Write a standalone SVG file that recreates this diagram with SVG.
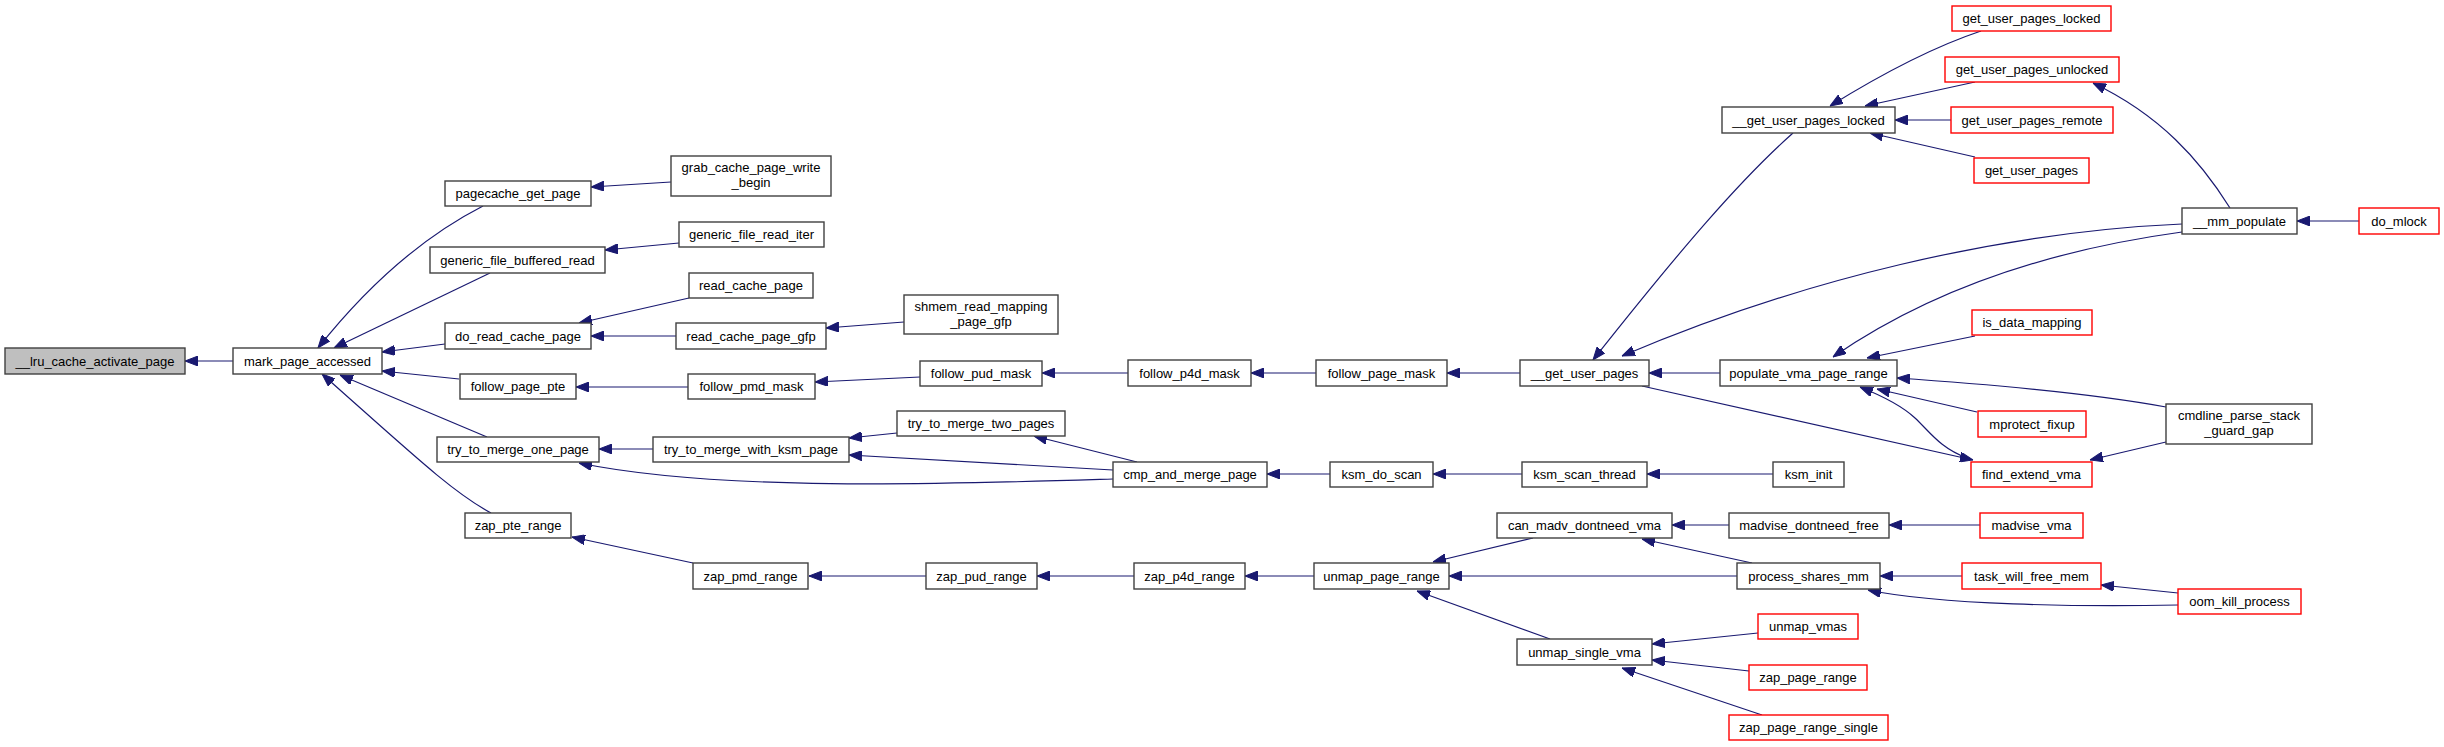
<svg xmlns="http://www.w3.org/2000/svg" width="2444" height="747" viewBox="0 0 2444 747">
<style>
rect{fill:#ffffff;stroke:#404040;stroke-width:1.4}
rect.red{stroke:#ff0000}
rect.root{fill:#bfbfbf}
text{font-family:"Liberation Sans",Arial,sans-serif;font-size:13px;fill:#000000;text-anchor:middle}
#edges path{fill:none;stroke:#191970;stroke-width:1.2;marker-end:url(#ah)}
</style>
<defs>
<marker id="ah" viewBox="0 0 13 10" refX="13" refY="5" markerWidth="13" markerHeight="10" markerUnits="userSpaceOnUse" orient="auto"><path d="M0,0 L13,5 L0,10 z" fill="#191970" stroke="#191970" stroke-width="1"/></marker>
</defs>
<rect x="0" y="0" width="2444" height="747" style="fill:#ffffff;stroke:none"/>
<g id="edges">
<path d="M233,361 L185,361"/>
<path d="M483,206 C440,228 380,270 318,348"/>
<path d="M490,273 L334,348"/>
<path d="M445,344 L382,352"/>
<path d="M459,379 L382,371"/>
<path d="M487,437 L340,375"/>
<path d="M491,513 C452,492 410,452 322,374"/>
<path d="M671,182 L591,187"/>
<path d="M679,243 L605,250"/>
<path d="M689,298 L579,323"/>
<path d="M676,336 L591,336"/>
<path d="M904,322 L826,328"/>
<path d="M688,387 L576,387"/>
<path d="M920,377 L815,382"/>
<path d="M653,449 L599,449"/>
<path d="M897,433 L849,438"/>
<path d="M1137,462 L1034,436"/>
<path d="M1113,470 L849,455"/>
<path d="M1113,479 C950,484 720,492 579,463"/>
<path d="M693,563 L572,537"/>
<path d="M926,576 L809,576"/>
<path d="M1134,576 L1037,576"/>
<path d="M1314,576 L1245,576"/>
<path d="M1128,373 L1042,373"/>
<path d="M1316,373 L1251,373"/>
<path d="M1520,373 L1447,373"/>
<path d="M1330,474 L1267,474"/>
<path d="M1522,474 L1433,474"/>
<path d="M1773,474 L1647,474"/>
<path d="M1533,538 L1433,562"/>
<path d="M1737,576 L1449,576"/>
<path d="M1550,639 L1417,591"/>
<path d="M1729,525 L1672,525"/>
<path d="M1752,563 L1642,539"/>
<path d="M1980,525 L1889,525"/>
<path d="M1962,576 L1880,576"/>
<path d="M2178,605 C2080,607 1940,605 1868,590"/>
<path d="M2178,593 L2101,585"/>
<path d="M1758,633 L1652,644"/>
<path d="M1749,671 L1652,660"/>
<path d="M1762,715 L1622,668"/>
<path d="M1720,373 L1649,373"/>
<path d="M1793,133 C1740,180 1680,250 1593,360"/>
<path d="M2182,224 C2000,232 1800,280 1622,356"/>
<path d="M1642,386 L1973,460"/>
<path d="M1981,31 C1930,48 1880,75 1830,106"/>
<path d="M1975,82 L1865,106"/>
<path d="M1951,120 L1895,120"/>
<path d="M1975,157 L1870,133"/>
<path d="M2230,208 C2200,160 2160,115 2093,83"/>
<path d="M2359,221 L2297,221"/>
<path d="M2182,232 C2050,250 1930,290 1833,357"/>
<path d="M1975,336 L1867,358"/>
<path d="M1977,412 L1877,389"/>
<path d="M2166,407 C2100,395 2000,385 1897,378"/>
<path d="M2166,442 L2090,460"/>
<path d="M1967,458 C1940,448 1930,432 1915,418 C1900,404 1880,395 1860,387"/>
</g>
<g id="n_lru"><rect class="root" x="5" y="348" width="180" height="26"/><text x="95" y="365.5">__lru_cache_activate_page</text></g>
<g id="n_mark_page_accessed"><rect x="233" y="348" width="149" height="26"/><text x="307.5" y="365.5">mark_page_accessed</text></g>
<g id="n_pagecache_get_page"><rect x="445" y="181" width="146" height="25"/><text x="518" y="198">pagecache_get_page</text></g>
<g id="n_generic_file_buffered_read"><rect x="430" y="247" width="175" height="26"/><text x="517.5" y="264.5">generic_file_buffered_read</text></g>
<g id="n_do_read_cache_page"><rect x="445" y="323" width="146" height="26"/><text x="518" y="340.5">do_read_cache_page</text></g>
<g id="n_follow_page_pte"><rect x="460" y="374" width="116" height="25"/><text x="518" y="391">follow_page_pte</text></g>
<g id="n_try_to_merge_one_page"><rect x="437" y="437" width="162" height="25"/><text x="518" y="454">try_to_merge_one_page</text></g>
<g id="n_zap_pte_range"><rect x="465" y="513" width="106" height="25"/><text x="518" y="530">zap_pte_range</text></g>
<g id="n_grab_cache_page_write_begin"><rect x="671" y="156" width="160" height="40"/><text x="751" y="172">grab_cache_page_write</text><text x="751" y="187">_begin</text></g>
<g id="n_generic_file_read_iter"><rect x="679" y="222" width="145" height="25"/><text x="751.5" y="239">generic_file_read_iter</text></g>
<g id="n_read_cache_page"><rect x="689" y="273" width="124" height="25"/><text x="751" y="290">read_cache_page</text></g>
<g id="n_read_cache_page_gfp"><rect x="676" y="323" width="150" height="26"/><text x="751" y="340.5">read_cache_page_gfp</text></g>
<g id="n_shmem_read_mapping_page_gfp"><rect x="904" y="295" width="154" height="39"/><text x="981" y="310.5">shmem_read_mapping</text><text x="981" y="325.5">_page_gfp</text></g>
<g id="n_follow_pmd_mask"><rect x="688" y="374" width="127" height="25"/><text x="751.5" y="391">follow_pmd_mask</text></g>
<g id="n_follow_pud_mask"><rect x="920" y="361" width="122" height="25"/><text x="981" y="378">follow_pud_mask</text></g>
<g id="n_try_to_merge_two_pages"><rect x="897" y="411" width="168" height="25"/><text x="981" y="428">try_to_merge_two_pages</text></g>
<g id="n_try_to_merge_with_ksm_page"><rect x="653" y="437" width="196" height="25"/><text x="751" y="454">try_to_merge_with_ksm_page</text></g>
<g id="n_zap_pmd_range"><rect x="693" y="563" width="115" height="26"/><text x="750.5" y="580.5">zap_pmd_range</text></g>
<g id="n_zap_pud_range"><rect x="926" y="563" width="111" height="26"/><text x="981.5" y="580.5">zap_pud_range</text></g>
<g id="n_follow_p4d_mask"><rect x="1128" y="360" width="123" height="26"/><text x="1189.5" y="377.5">follow_p4d_mask</text></g>
<g id="n_follow_page_mask"><rect x="1316" y="360" width="131" height="26"/><text x="1381.5" y="377.5">follow_page_mask</text></g>
<g id="n_cmp_and_merge_page"><rect x="1113" y="462" width="154" height="25"/><text x="1190" y="479">cmp_and_merge_page</text></g>
<g id="n_ksm_do_scan"><rect x="1330" y="462" width="103" height="25"/><text x="1381.5" y="479">ksm_do_scan</text></g>
<g id="n_zap_p4d_range"><rect x="1134" y="563" width="111" height="26"/><text x="1189.5" y="580.5">zap_p4d_range</text></g>
<g id="n_unmap_page_range"><rect x="1314" y="563" width="135" height="26"/><text x="1381.5" y="580.5">unmap_page_range</text></g>
<g id="n___get_user_pages"><rect x="1520" y="360" width="129" height="26"/><text x="1584.5" y="377.5">__get_user_pages</text></g>
<g id="n_ksm_scan_thread"><rect x="1522" y="462" width="125" height="25"/><text x="1584.5" y="479">ksm_scan_thread</text></g>
<g id="n_can_madv_dontneed_vma"><rect x="1497" y="513" width="175" height="25"/><text x="1584.5" y="530">can_madv_dontneed_vma</text></g>
<g id="n_unmap_single_vma"><rect x="1517" y="639" width="135" height="26"/><text x="1584.5" y="656.5">unmap_single_vma</text></g>
<g id="n___get_user_pages_locked"><rect x="1722" y="107" width="173" height="26"/><text x="1808.5" y="124.5">__get_user_pages_locked</text></g>
<g id="n_populate_vma_page_range"><rect x="1720" y="360" width="177" height="26"/><text x="1808.5" y="377.5">populate_vma_page_range</text></g>
<g id="n_ksm_init"><rect x="1773" y="462" width="71" height="25"/><text x="1808.5" y="479">ksm_init</text></g>
<g id="n_madvise_dontneed_free"><rect x="1729" y="513" width="160" height="25"/><text x="1809" y="530">madvise_dontneed_free</text></g>
<g id="n_process_shares_mm"><rect x="1737" y="563" width="143" height="26"/><text x="1808.5" y="580.5">process_shares_mm</text></g>
<g id="n_unmap_vmas"><rect class="red" x="1758" y="614" width="100" height="25"/><text x="1808" y="631">unmap_vmas</text></g>
<g id="n_zap_page_range"><rect class="red" x="1749" y="665" width="118" height="25"/><text x="1808" y="682">zap_page_range</text></g>
<g id="n_zap_page_range_single"><rect class="red" x="1729" y="715" width="159" height="25"/><text x="1808.5" y="732">zap_page_range_single</text></g>
<g id="n_get_user_pages_locked"><rect class="red" x="1952" y="6" width="159" height="25"/><text x="2031.5" y="23">get_user_pages_locked</text></g>
<g id="n_get_user_pages_unlocked"><rect class="red" x="1945" y="57" width="174" height="25"/><text x="2032" y="74">get_user_pages_unlocked</text></g>
<g id="n_get_user_pages_remote"><rect class="red" x="1951" y="107" width="162" height="26"/><text x="2032" y="124.5">get_user_pages_remote</text></g>
<g id="n_get_user_pages"><rect class="red" x="1974" y="158" width="115" height="25"/><text x="2031.5" y="175">get_user_pages</text></g>
<g id="n_is_data_mapping"><rect class="red" x="1972" y="310" width="120" height="25"/><text x="2032" y="327">is_data_mapping</text></g>
<g id="n_mprotect_fixup"><rect class="red" x="1978" y="411" width="108" height="26"/><text x="2032" y="428.5">mprotect_fixup</text></g>
<g id="n_find_extend_vma"><rect class="red" x="1971" y="462" width="121" height="25"/><text x="2031.5" y="479">find_extend_vma</text></g>
<g id="n_madvise_vma"><rect class="red" x="1980" y="513" width="103" height="25"/><text x="2031.5" y="530">madvise_vma</text></g>
<g id="n_task_will_free_mem"><rect class="red" x="1962" y="563" width="139" height="26"/><text x="2031.5" y="580.5">task_will_free_mem</text></g>
<g id="n___mm_populate"><rect x="2182" y="208" width="115" height="26"/><text x="2239.5" y="225.5">__mm_populate</text></g>
<g id="n_do_mlock"><rect class="red" x="2359" y="208" width="80" height="26"/><text x="2399" y="225.5">do_mlock</text></g>
<g id="n_cmdline_parse_stack_guard_gap"><rect x="2166" y="404" width="146" height="40"/><text x="2239" y="420">cmdline_parse_stack</text><text x="2239" y="435">_guard_gap</text></g>
<g id="n_oom_kill_process"><rect class="red" x="2178" y="589" width="123" height="25"/><text x="2239.5" y="606">oom_kill_process</text></g>
</svg>
